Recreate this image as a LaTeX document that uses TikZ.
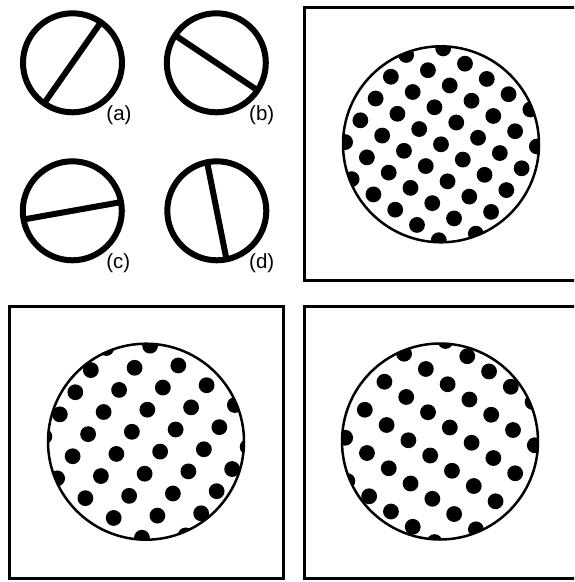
\documentclass[tikz,border=0pt]{standalone}
\usepackage{fontspec}
\setmainfont{Liberation Sans}
\begin{document}
\begin{tikzpicture}[x=1pt,y=-1pt,
  ring/.style={line width=6pt},
  frame/.style={line width=3pt},
  disc/.style={line width=2.5pt},
  dot/.style={fill=black},
  lbl/.style={font=\fontsize{20.5}{24}\selectfont, inner sep=0pt}]
\useasboundingbox (0,0) rectangle (574,582);
\clip (0,0) rectangle (574,582);
\fill[white] (0,0) rectangle (574,582);

% four small circles with diameters
\foreach \cx/\cy/\ang/\l/\lx/\ly in {72.5/62.8/-55/a/119/115, 216.3/62.8/33.7/b/261.7/115, 72.3/210.8/-10.1/c/118.3/263, 216.8/210.8/-101.3/d/261.7/263}{
  \coordinate (c\l) at (\cx,\cy);
  \draw[ring] (c\l) circle[radius=49.5];
  \draw[ring] ([shift={(\ang:49.5)}]c\l) -- ([shift={(\ang+180:49.5)}]c\l);
  \node[lbl] (l\l) at (\lx,\ly) {(\l)};
}

% frames
\draw[frame] (304,7) rectangle (580,280.5);
\draw[frame] (9.3,306.3) rectangle (283.3,578.3);
\draw[frame] (304,306.3) rectangle (580,578.3);

% top-right disc: square lattice, dot at centre
\coordinate (d1) at (441,144.3);
\begin{scope}
  \clip (d1) circle[radius=98];
  \foreach \i in {-6,...,6} \foreach \j in {-6,...,6}
    \fill[dot] ({441+\i*21.79-\j*15.26},{144.3+\i*15.26+\j*21.79}) circle[radius=7.9];
\end{scope}
\draw[disc] (d1) circle[radius=98];

% bottom-left disc: stretched along 35 deg
\coordinate (d2) at (146,441.7);
\begin{scope}
  \clip (d2) circle[radius=98];
  \foreach \i in {-5,...,5} \foreach \j in {-6,...,6}
    \fill[dot] ({146-14.13+\i*28.26-\j*15.49},{441.7-9.9+\i*19.79+\j*22.12}) circle[radius=7.9];
\end{scope}
\draw[disc] (d2) circle[radius=98];

% bottom-right disc: stretched along 125 deg
\coordinate (d3) at (440,441.5);
\begin{scope}
  \clip (d3) circle[radius=98];
  \foreach \i in {-6,...,6} \foreach \j in {-5,...,5}
    \fill[dot] ({440+9.81+\i*21.79-\j*19.62},{441.5-14.0+\i*15.26+\j*28.01}) circle[radius=7.9];
\end{scope}
\draw[disc] (d3) circle[radius=98];
\end{tikzpicture}
\end{document}
